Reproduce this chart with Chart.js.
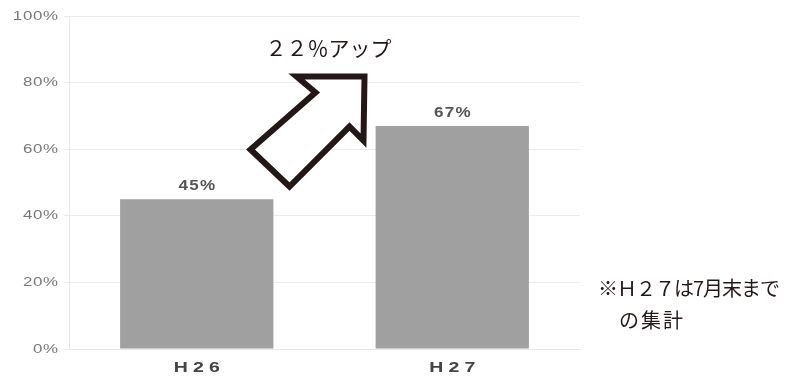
<!DOCTYPE html>
<html>
<head>
<meta charset="utf-8">
<script src="https://cdn.jsdelivr.net/npm/chart.js@4.4.1/dist/chart.umd.min.js"></script>
<style>
  html,body{margin:0;padding:0;background:#fff;}
  #wrap{position:relative;width:792px;height:379px;}
  .note{position:absolute;font-family:"Noto Sans CJK JP",sans-serif;font-size:20px;color:#231815;white-space:nowrap;line-height:1;}
</style>
</head>
<body>
<div id="wrap">
  <canvas id="rateChart" width="792" height="379"></canvas>
  <div class="note" style="left:598px;top:278px;letter-spacing:-1px;">※Ｈ２７は7月末まで</div>
  <div class="note" style="left:619px;top:310px;letter-spacing:2px;">の集計</div>
</div>
<script>
const years = ["H26", "H27"];
const rates = [45, 67];
const yTicks = [0, 20, 40, 60, 80, 100];
const upText = "２２％アップ";

const LATIN = "'Liberation Sans', Arial, sans-serif";

// 横に広げた文字を描く
function wideText(ctx, text, x, y, opts) {
  ctx.save();
  ctx.font = opts.font;
  ctx.fillStyle = opts.color;
  ctx.letterSpacing = (opts.spacing || 0) + "px";
  ctx.textAlign = opts.align || "center";
  ctx.textBaseline = "middle";
  ctx.translate(x, y);
  ctx.scale(opts.sx || 1, 1);
  let dx = 0;
  if (opts.align === "right") dx = opts.spacing || 0;
  else if (!opts.align || opts.align === "center") dx = (opts.spacing || 0) / 2;
  ctx.fillText(text, dx, 0);
  ctx.restore();
}

// 枠付きの矢印と「アップ」表記、棒の上の数値、軸ラベル
const overlay = {
  id: "overlay",
  afterDatasetsDraw(chart) {
    const meta = chart.getDatasetMeta(0);
    meta.data.forEach((bar, i) => {
      wideText(chart.ctx, rates[i] + "%", bar.x, bar.y - 13, {
        font: "bold 14px " + LATIN, color: "#555", sx: 1.22, spacing: 1
      });
    });
  },
  afterDraw(chart) {
    const ctx = chart.ctx;
    const x = chart.scales.x, y = chart.scales.y;

    // 縦軸の目盛
    yTicks.forEach(v => {
      wideText(ctx, v + "%", x.left - 11, y.getPixelForValue(v), {
        font: "13px " + LATIN, color: "#777", sx: 1.3, spacing: 0.5, align: "right"
      });
    });

    // 年度ラベル
    years.forEach((lab, i) => {
      wideText(ctx, lab, x.getPixelForTick(i), y.bottom + 19, {
        font: "bold 15px " + LATIN, color: "#444", sx: 1.3, spacing: 4
      });
    });

    // 矢印
    const cx = x.getPixelForValue(0.5);
    const cy = y.getPixelForValue(65);
    const pts = [[40,-56],[-28,-56],[-9,-40],[-74,17],[-35,54],[25,-6],[39,8]];
    ctx.save();
    ctx.beginPath();
    pts.forEach((p, i) => {
      if (i === 0) ctx.moveTo(cx + p[0], cy + p[1]);
      else ctx.lineTo(cx + p[0], cy + p[1]);
    });
    ctx.closePath();
    ctx.fillStyle = "#fff";
    ctx.fill();
    ctx.lineWidth = 6;
    ctx.lineJoin = "miter";
    ctx.strokeStyle = "#231815";
    ctx.stroke();
    ctx.restore();

    wideText(ctx, upText, cx + 4, y.getPixelForValue(90.5), {
      font: "21px 'Noto Sans CJK JP', sans-serif", color: "#231815"
    });
  }
};

new Chart(document.getElementById("rateChart"), {
  type: "bar",
  data: {
    labels: years,
    datasets: [{
      data: rates,
      backgroundColor: "#9fa09f",
      borderWidth: 0,
      categoryPercentage: 1,
      barPercentage: 0.6
    }]
  },
  options: {
    responsive: false,
    animation: false,
    layout: { padding: { top: 16, right: 212, bottom: 0, left: 0 } },
    plugins: { legend: { display: false }, tooltip: { enabled: false } },
    scales: {
      x: {
        grid: { display: false },
        border: { color: "#e6e6e6" },
        ticks: { display: false },
        afterFit(scale) { scale.height = 30; }
      },
      y: {
        min: 0,
        max: 100,
        afterBuildTicks(scale) {
          scale.ticks = yTicks.map(v => ({ value: v }));
        },
        grid: { color: "#ebebeb", tickLength: 5 },
        border: { color: "#e6e6e6" },
        ticks: { display: false },
        afterFit(scale) { scale.width = 69; }
      }
    }
  },
  plugins: [overlay]
});
</script>
</body>
</html>
